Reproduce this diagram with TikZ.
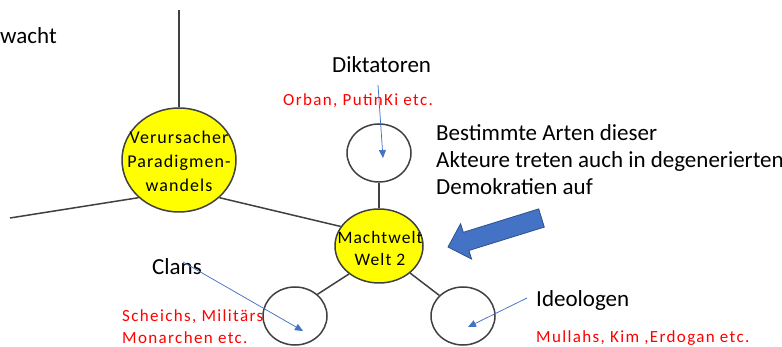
\documentclass[tikz,border=0pt]{standalone}
\usepackage{fontspec}
\setmainfont{Carlito}
\newfontfamily\spaced[LetterSpace=6]{Carlito}
\newfontfamily\spacedred[LetterSpace=8]{Carlito}
\usetikzlibrary{shapes.geometric,arrows.meta}
\definecolor{lineg}{HTML}{404040}
\definecolor{ablue}{HTML}{4472C4}
\definecolor{ablueD}{HTML}{2F528F}
\definecolor{yel}{HTML}{FFFF00}
\definecolor{txtred}{HTML}{FF0000}
\begin{document}
\begin{tikzpicture}[x=1pt,y=-1pt,
 bigc/.style={ellipse, draw=lineg, line width=1.5pt, fill=yel, inner sep=0pt},
 smallc/.style={ellipse, draw=lineg, line width=1.5pt, minimum width=64pt, minimum height=58pt, inner sep=0pt},
 conn/.style={draw=lineg, line width=1.5pt},
 thinarrow/.style={draw=ablue, line width=0.75pt, -{Triangle[length=8pt,width=7pt]}},
 lbl/.style={font=\fontsize{23}{27}\selectfont, inner sep=0pt, anchor=base west},
 redlbl/.style={font=\spacedred\fontsize{17}{22}\selectfont, text=txtred, inner sep=0pt, anchor=base west},
 intext/.style={font=\spaced\fontsize{18}{24}\selectfont, align=center, inner sep=0pt}
]
\useasboundingbox (0,0) rectangle (782,347);

% circles
\node[bigc, minimum width=114pt, minimum height=104pt] (V) at (179,160) {};
\node[bigc, minimum width=88pt, minimum height=74pt] (M) at (379,246) {};
\node[smallc] (D) at (379,153) {};
\node[smallc] (C) at (295,316) {};
\node[smallc] (I) at (463,316) {};

% connectors
\coordinate (top) at (179,10);
\coordinate (left) at (10,218);
\draw[conn] (top) -- (V.north);
\draw[conn] (left) -- (V.-137);
\draw[conn] (V.-43) -- (M.153);
\draw[conn] (D.south) -- (M.north);
\draw[conn] (M.223) -- (C.44);
\draw[conn] (M.-41) -- (I.139);

% texts in circles
\node[intext] (Vt) at (179,161) {Verursacher\\Paradigmen-\\wandels};
\node[intext, font=\spaced\fontsize{17.5}{22}\selectfont] (Mt) at (380,248) {Machtwelt\\Welt 2};

% labels
\node[lbl] (wacht) at (0,44) {wacht};
\node[lbl] (dik) at (332,73) {Diktatoren};
\node[redlbl] (orban) at (283,106) {Orban, PutinKi etc.};
\node[lbl] (b1) at (436,141) {Bestimmte Arten dieser};
\node[lbl] (b2) at (436,168) {Akteure treten auch in degenerierten};
\node[lbl] (b3) at (436,195) {Demokratien auf};
\node[lbl] (clans) at (152,275) {Clans};
\node[redlbl] (sch) at (122,322) {Scheichs, Militärs};
\node[redlbl] (mon) at (122,344) {Monarchen etc.};
\node[lbl] (ideo) at (536,307) {Ideologen};
\node[redlbl] (mul) at (536,342) {Mullahs, Kim ,Erdogan etc.};

% thin blue arrows
\coordinate (a1s) at (378,85);
\coordinate (a1e) at (383,158);
\coordinate (a2s) at (183,262);
\coordinate (a2e) at (303,331);
\coordinate (a3s) at (527,298);
\coordinate (a3e) at (468,327);
\draw[thinarrow] (a1s) -- (a1e);
\draw[thinarrow] (a2s) -- (a2e);
\draw[thinarrow] (a3s) -- (a3e);

% big block arrow
\draw[fill=ablue, draw=ablueD, line width=0.8pt, line join=miter]
 (448,247) -- (460.6,223.7) -- (463.3,232.3) -- (538.7,208.9) -- (544.3,227.1)
 -- (468.9,250.5) -- (471.6,259.1) -- cycle;
\end{tikzpicture}
\end{document}
